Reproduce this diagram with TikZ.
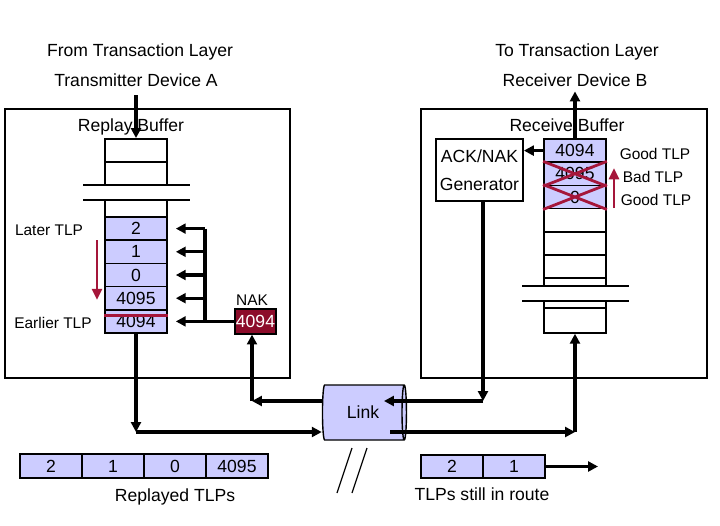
\documentclass[tikz,border=0pt]{standalone}
\usepackage{fontspec}
\setmainfont{Liberation Sans}
\usepackage{xcolor}
\usepackage{tikz}
\usetikzlibrary{
  arrows.meta,
  positioning,
  shapes.geometric,
  fit
}
\definecolor{tlpblue}{RGB}{204, 204, 255}
\definecolor{tlpred}{RGB}{165, 22, 58}
\definecolor{nakred}{RGB}{140, 12, 42}

\begin{document}
\begin{tikzpicture}[
  x=0.25mm, y=-0.25mm,
  every node/.style={font=\fontsize{12.5}{15}\selectfont},
  devbox/.style={draw, line width=1.5pt, inner sep=0pt},
  cell/.style={draw, line width=1.2pt, minimum width=15.5mm,
               minimum height=5.8mm, inner sep=0pt},
  tlp/.style={cell, fill=tlpblue},
  nakbox/.style={draw, line width=1pt, fill=nakred, text=white,
                 minimum width=10.25mm, minimum height=6.25mm, inner sep=0pt},
  linkcyl/.style={shape=cylinder, draw, line width=1pt,
                  cylinder uses custom fill, cylinder body fill=tlpblue,
                  cylinder end fill=tlpblue, shape aspect=0.35,
                  minimum width=13.75mm, minimum height=21mm, inner sep=0pt},
  sep/.style={line width=1.7pt},
  side/.style={line width=1.2pt},
  wire/.style={line width=2.4pt},
  flow/.style={wire, -{Triangle[length=7pt,width=7pt]}},
  redline/.style={draw=tlpred, line width=2pt},
  redflow/.style={redline, -{Triangle[length=8pt,width=7pt]}},
  lbl/.style={text=black},
  small/.style={text=black, font=\fontsize{11}{13}\selectfont}
]
\useasboundingbox (0,0) rectangle (720,526);

% titles
\node[lbl] (fromtl) at (140,52) {From Transaction Layer};
\node[lbl] (txdev) at (136,80) {Transmitter Device A};
\node[lbl] (totl) at (577,52) {To Transaction Layer};
\node[lbl] (rxdev) at (575,80) {Receiver Device B};

% device boxes
\node[devbox, fit={(5,109) (290,378)}] (devA) {};
\node[devbox, fit={(421,109) (707,378)}] (devB) {};
\node[lbl] (rplabel) at (131,127) {Replay Buffer};
\node[lbl] (rclabel) at (567,125) {Receive Buffer};

% replay buffer
\node[cell] (rbA) at (136,150.5) {};
\node[cell] (rbB) at (136,173.7) {};
\draw[sep] (83,185) -- (190,185);
\draw[sep] (83,200) -- (190,200);
\draw[side] (105,200) -- (105,217) (167,200) -- (167,217);
\foreach \n [count=\k from 0] in {2,1,0,4095,4094}{
  \node[tlp] (rp\n) at (136,228.6+23.2*\k) {\n};
}
\draw[redline] ([yshift=1.4mm]rp4094.west) -- ([yshift=1.4mm]rp4094.east);
\node[small] (later) at (49,230) {Later TLP};
\node[small] (earlier) at (53,323) {Earlier TLP};
\coordinate (lateA) at (97,240);
\coordinate (lateB) at (97,300);
\draw[redflow] (lateA) -- (lateB);

% NAK and the replay feedback
\node[nakbox] (nak) at (255.5,321.4) {4094};
\node[small] (naklabel) at (252,300) {NAK};
\coordinate (fb) at (205,321.4);
\draw[wire] (nak) -- (fb);
\draw[wire] (fb |- rp2) -- (fb |- rp4094);
\foreach \n in {2,1,0,4095,4094}{
  \draw[flow, shorten >=2mm] (fb |- rp\n) -- (rp\n);
}

% receive buffer
\foreach \n [count=\k from 0] in {4094,4095,0}{
  \node[tlp] (rc\n) at (575,150.6+23.2*\k) {\n};
}
\foreach \k in {3,4,5}{
  \node[cell] (rcE\k) at (575,150.6+23.2*\k) {};
}
\draw[side] (544,278) -- (544,286) (606,278) -- (606,286);
\draw[sep] (522,286) -- (629,286);
\draw[sep] (522,301) -- (629,301);
\draw[side] (544,301) -- (544,308) (606,301) -- (606,308);
\node[cell, minimum height=6.2mm] (rcIn) at (575,320.5) {};
\foreach \n in {4095,0}{
  \draw[redline] (rc\n.north west) -- (rc\n.south east)
                 (rc\n.south west) -- (rc\n.north east);
}
\node[small] (good1) at (655,154) {Good TLP};
\node[small] (bad) at (653,177) {Bad TLP};
\node[small] (good2) at (656,200) {Good TLP};
\coordinate (upA) at (614,208);
\coordinate (upB) at (614,168);
\draw[redflow] (upA) -- (upB);

% ACK/NAK generator
\node[devbox, line width=1.3pt, minimum width=21.75mm, minimum height=15.5mm,
      align=center, font=\fontsize{12.5}{20}\selectfont] (gen) at (479.5,170)
      {ACK/NAK\\Generator};

% link
\node[linkcyl] (link) at (363,412.5) {Link};
\coordinate (linkin) at (384,412);
\coordinate (linkout) at (390,412);
\draw[line width=0.8pt] (352,448) -- (337,493) (367,448) -- (352,493);

% arrows
\coordinate (aturn) at (136,432);
\coordinate (nturn) at (252,401);
\coordinate (gturn) at (483,401);
\coordinate (bturn) at (575,432);
\draw[flow, shorten <=1mm] (txdev) -- (rbA);
\draw[flow] (rc4094) -- (rxdev);
\draw[flow] (rc4094.west) -- (gen.east |- rc4094.west);
\draw[flow] (rp4094) -- (aturn);
\draw[flow] (aturn) -- (aturn -| link.west);
\draw[flow] (nturn -| link.west) -- (nturn);
\draw[flow] (nturn) -- (nturn |- nak.south);
\draw[flow] (gen.south -| gturn) -- (gturn);
\draw[flow] (gturn) -- (gturn -| linkin);
\draw[flow] (bturn -| linkout) -- (bturn);
\draw[flow] (bturn) -- (rcIn);

% TLPs on the wire
\foreach \n [count=\k from 0] in {2,1,0,4095}{
  \node[tlp, minimum height=6mm] (rt\n) at (51+62*\k,466) {\n};
}
\foreach \n [count=\k from 0] in {2,1}{
  \node[tlp, minimum height=5.75mm] (ir\n) at (452+62*\k,466.5) {\n};
}
\coordinate (irend) at (598,466.5);
\draw[flow] (ir1) -- (irend);
\node[lbl] (replayed) at (175,497) {Replayed TLPs};
\node[lbl] (inroute) at (482,494) {TLPs still in route};

\end{tikzpicture}
\end{document}
